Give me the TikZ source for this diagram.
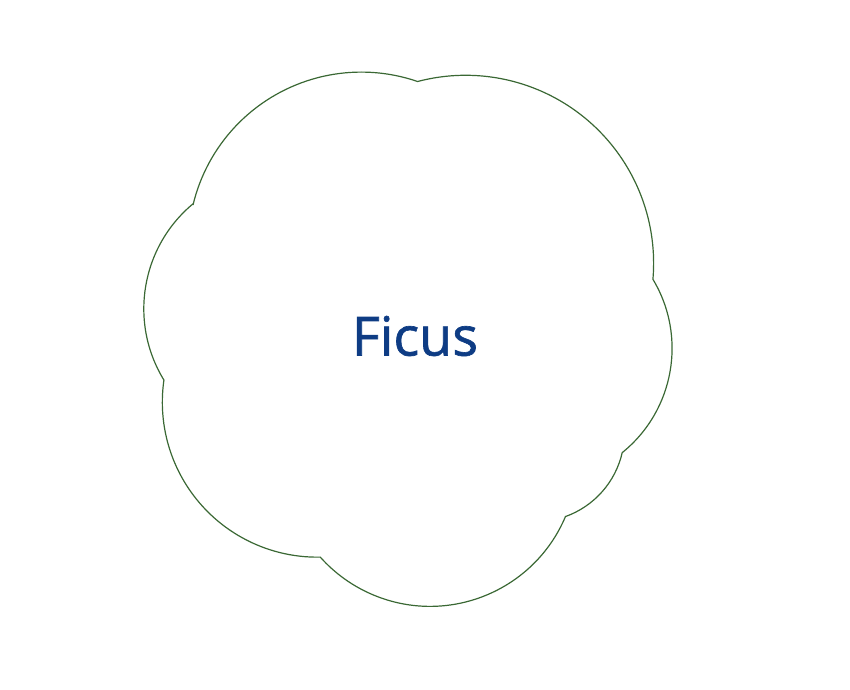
\documentclass[tikz,border=0pt]{standalone}
\usepackage{fontspec}
\newfontfamily\plantfont{Open Sans}[FakeBold=1.2]
\usepackage{tikz}
\definecolor{leafgreen}{RGB}{58,104,52}
\definecolor{labelblue}{RGB}{14,60,132}
\tikzset{
	canopy/.style={draw=leafgreen, line width=1.2pt, line join=miter},
	plantname/.style={text=labelblue, font=\plantfont\fontsize{54}{62}\selectfont, inner sep=0pt}
}

\begin{document}
\begin{tikzpicture}[x=1pt, y=1pt]
		%%%%% START %%%%%
		\useasboundingbox (0, 0) rectangle (850, -689);
		
		% crown outline, one arc per lobe
		\draw[canopy] (193, -205)
			arc[start angle=166.6, end angle=71.0, radius=173]
			arc[start angle=104.8, end angle=-4.9, radius=188]
			arc[start angle=31.0, end angle=-51.1, radius=134]
			arc[start angle=-12.9, end angle=-70.3, radius=89]
			arc[start angle=-22.9, end angle=-138.3, radius=147]
			arc[start angle=-88.9, end angle=-188.2, radius=155]
			arc[start angle=-148.5, end angle=-230.4, radius=136.5]
			-- cycle;
		
		\node[plantname] (ficus) at (415, -336) {Ficus};
		%%%%% END %%%%%
	\end{tikzpicture}
\end{document}
